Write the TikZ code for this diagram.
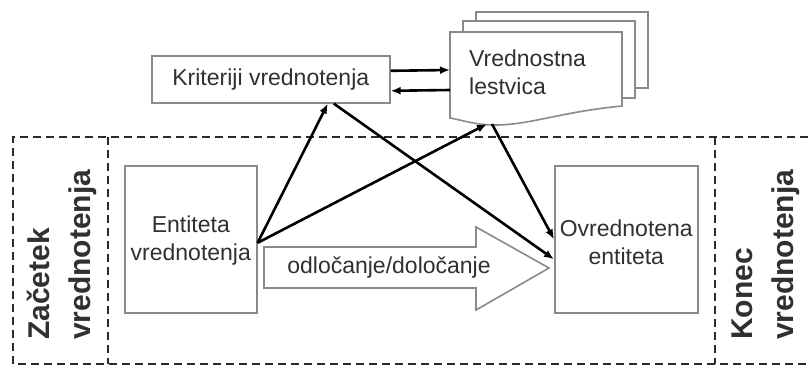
\documentclass[tikz,border=0pt]{standalone}
\usepackage{fontspec}
\setmainfont{Liberation Sans}
\usetikzlibrary{arrows.meta,calc}
\definecolor{boxgray}{HTML}{8A8A8A}
\definecolor{txt}{HTML}{303030}
\definecolor{dashc}{HTML}{2A2A2A}
\tikzset{
  box/.style={draw=boxgray, line width=1.6pt, fill=white, inner sep=0pt},
  btext/.style={text=txt, font=\fontsize{23}{28}\selectfont, align=center, inner sep=0pt},
  side/.style={text=txt, font=\fontsize{30}{41}\selectfont\bfseries, align=left, rotate=90, anchor=west, inner sep=0pt},
  dashbox/.style={draw=dashc, line width=2.6pt, dash pattern=on 8pt off 5pt},
  conn/.style={draw=black, line width=2.6pt, -{Latex[length=10pt,width=8pt]}},
  doc/.style={draw=boxgray, line width=1.6pt, fill=white},
}
\begin{document}
\begin{tikzpicture}[x=1pt,y=-1pt]
\useasboundingbox (0,0) rectangle (808,368);
\fill[white] (0,0) rectangle (808,368);
% dashed frame
\draw[dashbox] (808,137) -- (13,137) -- (13,364) -- (808,364);
\draw[dashbox] (108,137) -- (108,364);
\draw[dashbox] (715,137) -- (715,364);
\node[side] (start) at (62,340) {Začetek\\vrednotenja};
\node[side] (end) at (766,340) {Konec\\vrednotenja};
% criteria box
\node[box, minimum width=238, minimum height=47, anchor=north west] (krit) at (151,55) {};
\node[btext] (kritt) at (krit.center) {Kriteriji vrednotenja};
% document stack
\draw[doc] (476,12) -- (648,12) -- (648,88) -- (476,88) -- cycle;
\draw[doc] (463,21) -- (635,21) -- (635,98) -- (463,98) -- cycle;
\draw[doc] (450,32) -- (622,32) -- (622,106) .. controls (560,112) and (530,125) .. (495,125) .. controls (475,125) and (462,120) .. (450,118) -- cycle;
\node[btext, align=left, anchor=west] (vred) at (469,72) {Vrednostna\\lestvica};
\coordinate (vl1) at (450,70);
\coordinate (vl2) at (450,90);
\coordinate (vb1) at (487,124);
\coordinate (vb2) at (492,124);
% entity boxes
\node[box, minimum width=132, minimum height=147, anchor=north west] (ent) at (124,165) {};
\node[btext] (entt) at ($(ent.center)+(0,1.5)$) {Entiteta\\vrednotenja};
\node[box, minimum width=143, minimum height=147, anchor=north west] (ovr) at (554,165) {};
\node[btext] (ovrt) at ($(ovr.center)+(0,2.5)$) {Ovrednotena\\entiteta};
% big arrow
\draw[draw=boxgray, line width=1.6pt, fill=white] (264,247) -- (476,247) -- (476,227) -- (549,268) -- (476,310) -- (476,288) -- (264,288) -- cycle;
\node[btext] (dec) at (389,268) {odločanje/določanje};
% connectors
\draw[conn] ([yshift=8.5pt]krit.east) -- (vl1);
\draw[conn] (vl2) -- ([yshift=-11.5pt]krit.east);
\draw[conn] ([yshift=-3.5pt]ent.east) -- ([xshift=57pt]krit.south);
\draw[conn] ([yshift=-3.5pt]ent.east) -- (vb1);
\draw[conn] ([xshift=63pt]krit.south) -- ([yshift=-20pt]ovr.west);
\draw[conn] (vb2) -- (ovr.west);
\end{tikzpicture}
\end{document}
